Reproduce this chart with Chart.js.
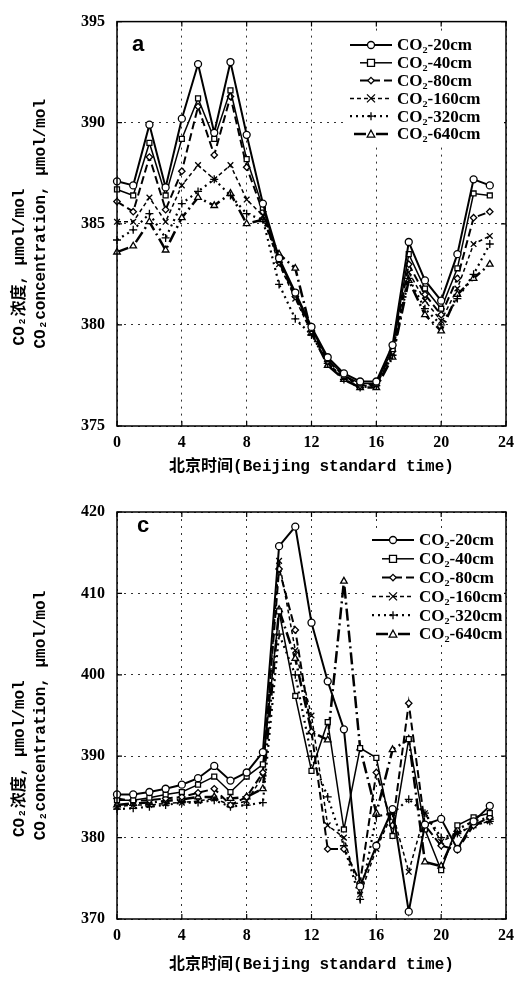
<!DOCTYPE html>
<html><head><meta charset="utf-8">
<script src="https://cdn.jsdelivr.net/npm/chart.js@4"></script>
<style>
html,body{margin:0;padding:0;background:#fff;}
#wrap1{position:absolute;left:0;top:0;width:521px;height:490px;}
#wrap2{position:absolute;left:0;top:490px;width:521px;height:491px;}
</style></head><body>
<div id="wrap1"><canvas id="c1" width="521" height="490"></canvas></div>
<div id="wrap2"><canvas id="c2" width="521" height="491"></canvas></div>
<script>
// ---------- data ----------
const hours = [0,1,2,3,4,5,6,7,8,9,10,11,12,13,14,15,16,17,18,19,20,21,22,23];
const seriesNames = ['CO\u2082-20cm','CO\u2082-40cm','CO\u2082-80cm','CO\u2082-160cm','CO\u2082-320cm','CO\u2082-640cm'];
const xTicks = [0,4,8,12,16,20,24];
const topYTicks = [375,380,385,390,395];
const bottomYTicks = [370,380,390,400,410,420];
const yTitle = ['CO\u2082浓度, μmol/mol         ','CO\u2082concentration, μmol/mol'];
const xTitle = '北京时间(Beijing standard time)';

// panel a
const a_20  = [387.1,386.9,389.9,386.8,390.2,392.9,389.5,393.0,389.4,386.0,383.3,381.6,379.9,378.4,377.6,377.2,377.2,379.0,384.1,382.2,381.2,383.5,387.2,386.9];
const a_40  = [386.7,386.4,389.0,386.4,389.2,391.2,389.2,391.6,388.2,385.8,383.2,381.5,379.8,378.3,377.5,377.1,377.1,378.8,383.5,381.8,380.8,382.8,386.5,386.4];
const a_80  = [386.1,385.6,388.3,385.7,387.6,390.8,388.4,391.3,387.8,385.6,383.1,381.4,379.7,378.2,377.5,377.0,377.1,378.7,383.0,381.5,380.5,382.3,385.3,385.6];
const a_160 = [385.1,385.1,386.3,385.1,386.9,387.9,387.2,387.9,386.2,385.4,383.0,381.3,379.6,378.1,377.4,377.0,377.0,378.6,382.6,381.2,380.2,381.8,384.0,384.4];
const a_320 = [384.2,384.7,385.5,384.3,386.0,386.6,387.2,386.4,385.5,385.2,382.0,380.3,379.5,378.1,377.3,376.9,377.0,378.5,382.3,380.8,380.0,381.3,382.5,384.0];
const a_640 = [383.6,383.9,385.1,383.7,385.3,386.3,385.9,386.5,385.0,385.2,383.5,382.8,379.6,378.0,377.3,376.9,376.9,378.4,382.2,380.5,379.7,381.5,382.3,383.0];

// panel c
const c_20  = [385.3,385.3,385.6,386.0,386.5,387.3,388.8,387.0,388.0,390.5,415.8,418.2,406.4,399.2,393.3,374.0,379.0,383.5,370.9,381.6,382.3,378.6,382.0,383.9];
const c_40  = [384.6,384.6,384.9,385.3,385.6,386.5,387.5,385.6,387.5,389.0,407.8,397.4,388.2,394.2,381.0,391.0,389.8,380.2,392.1,381.0,376.0,381.5,382.5,383.0];
const c_80  = [384.8,384.5,384.6,384.8,385.0,385.5,386.0,384.0,385.0,388.0,413.0,405.5,393.0,378.6,378.6,374.5,388.0,381.5,396.5,381.5,379.0,378.5,381.5,382.5];
const c_160 = [383.8,384.0,384.0,384.2,384.3,384.5,384.8,384.0,384.5,387.5,414.0,403.0,395.0,381.5,380.0,373.0,378.6,383.0,375.8,383.0,379.5,380.5,381.5,382.0];
const c_320 = [383.5,383.6,383.8,384.0,384.3,384.3,384.6,383.8,384.0,384.3,405.0,400.0,390.0,385.0,379.0,372.4,382.6,383.0,384.7,383.0,380.0,380.5,381.5,382.0];
const c_640 = [384.0,384.2,384.3,384.5,384.7,385.0,385.0,384.8,385.0,386.0,408.0,402.0,393.0,392.0,411.5,391.0,383.0,390.8,392.1,377.0,376.5,381.0,382.0,382.5];

// ---------- styles ----------
const styles = [
  {w:2.0, dash:[],          ps:'circle',   r:3.5},
  {w:1.5, dash:[],          ps:'rect',     r:3.5},
  {w:2.0, dash:[8,4],       ps:'rectRot',  r:3.2},
  {w:1.5, dash:[4,3],       ps:'crossRot', r:4},
  {w:2.2, dash:[2,4],       ps:'cross',    r:4},
  {w:2.5, dash:[12,4,2,4],  ps:'triangle', r:3.8}
];

function drawMarker(ctx, ps, r, x, y){
  ctx.save();
  ctx.setLineDash([]);
  ctx.lineWidth = 1.3;
  ctx.strokeStyle = '#000';
  ctx.fillStyle = '#fff';
  ctx.beginPath();
  if (ps === 'circle') { ctx.arc(x,y,r,0,Math.PI*2); ctx.fill(); ctx.stroke(); }
  else if (ps === 'rect') { ctx.rect(x-r,y-r,2*r,2*r); ctx.fill(); ctx.stroke(); }
  else if (ps === 'rectRot') { ctx.moveTo(x,y-r);ctx.lineTo(x+r,y);ctx.lineTo(x,y+r);ctx.lineTo(x-r,y);ctx.closePath(); ctx.fill(); ctx.stroke(); }
  else if (ps === 'crossRot') { ctx.moveTo(x-r,y-r);ctx.lineTo(x+r,y+r);ctx.moveTo(x+r,y-r);ctx.lineTo(x-r,y+r); ctx.stroke(); }
  else if (ps === 'cross') { ctx.moveTo(x-r,y);ctx.lineTo(x+r,y);ctx.moveTo(x,y-r);ctx.lineTo(x,y+r); ctx.stroke(); }
  else if (ps === 'triangle') { ctx.moveTo(x,y-r);ctx.lineTo(x+r,y+r*0.8);ctx.lineTo(x-r,y+r*0.8);ctx.closePath(); ctx.fill(); ctx.stroke(); }
  ctx.restore();
}

const framePlugin = {
  id: 'frame',
  afterDraw(chart, args, opts){
    const ctx = chart.ctx, ca = chart.chartArea;
    const xs = chart.scales.x, ys = chart.scales.y;
    ctx.save();
    ctx.strokeStyle = '#000';
    ctx.lineWidth = 1.5;
    ctx.setLineDash([]);
    ctx.strokeRect(ca.left, ca.top, ca.right-ca.left, ca.bottom-ca.top);
    ctx.lineWidth = 1.2;
    const L = 5;
    ctx.beginPath();
    xs.ticks.forEach(t => {
      const px = xs.getPixelForValue(t.value);
      ctx.moveTo(px, ca.bottom); ctx.lineTo(px, ca.bottom-L);
      ctx.moveTo(px, ca.top); ctx.lineTo(px, ca.top+L);
    });
    ys.ticks.forEach(t => {
      const py = ys.getPixelForValue(t.value);
      ctx.moveTo(ca.left, py); ctx.lineTo(ca.left+L, py);
      ctx.moveTo(ca.right, py); ctx.lineTo(ca.right-L, py);
    });
    ctx.stroke();
    // panel letter
    ctx.fillStyle = '#000';
    ctx.font = 'bold 22px "Liberation Sans", Arial, sans-serif';
    ctx.textBaseline = 'alphabetic';
    ctx.fillText(opts.letter, ca.left + opts.lx, ca.top + opts.ly);
    // legend
    const lg = opts.legend;
    ctx.fillStyle = '#fff';
    ctx.fillRect(lg.x - 4, lg.y - 10, ca.right - 2 - (lg.x - 4), lg.dy * 5 + 20);
    chart.data.datasets.forEach((ds, i) => {
      const st = styles[i];
      const y = lg.y + i * lg.dy;
      ctx.save();
      ctx.strokeStyle = '#000';
      ctx.lineWidth = st.w;
      ctx.setLineDash(st.dash);
      ctx.beginPath();
      ctx.moveTo(lg.x + (lg.starts[i]||0), y);
      ctx.lineTo(lg.x + lg.len, y);
      ctx.stroke();
      ctx.restore();
      drawMarker(ctx, st.ps, st.r, lg.x + lg.len/2, y);
      ctx.fillStyle = '#000';
      ctx.font = 'bold 17px "Liberation Serif", "DejaVu Serif", serif';
      ctx.textBaseline = 'middle';
      ctx.fillText(ds.label, lg.x + lg.len + 5, y + 1);
    });
    ctx.restore();
  }
};

function makeDatasets(arrs){
  return arrs.map((arr, i) => ({
    label: seriesNames[i],
    data: hours.map((h, k) => ({x: h, y: arr[k]})),
    borderColor: '#000',
    backgroundColor: '#fff',
    borderWidth: styles[i].w,
    borderDash: styles[i].dash,
    pointStyle: styles[i].ps,
    pointRadius: styles[i].r,
    pointBorderColor: '#000',
    pointBackgroundColor: '#fff',
    pointBorderWidth: 1.3,
    tension: 0,
    clip: false
  }));
}

const tickFont = {family: '"Liberation Serif", "Times New Roman", serif', size: 16, weight: 'bold'};
const titleFont = {family: '"Liberation Mono", "Noto Sans CJK SC", monospace', size: 16, weight: 'bold', lineHeight: 1.3};

function makeChart(id, arrs, yTicks, xAxisH, padTop, padRight, xTitlePadBottom, letterPos, legend){
  const yMin = yTicks[0], yMax = yTicks[yTicks.length-1];
  return new Chart(document.getElementById(id), {
    type: 'line',
    data: { datasets: makeDatasets(arrs) },
    options: {
      responsive: false,
      animation: false,
      devicePixelRatio: 1,
      layout: { padding: {top: padTop, right: padRight, left: 0, bottom: 0} },
      plugins: {
        legend: {display: false},
        tooltip: {enabled: false},
        frame: {letter: letterPos.t, lx: letterPos.x, ly: letterPos.y, legend: legend}
      },
      scales: {
        x: {
          type: 'linear', min: 0, max: 24,
          afterBuildTicks: s => { s.ticks = xTicks.map(v => ({value: v})); },
          afterFit: s => { s.height = xAxisH; },
          ticks: {font: tickFont, color: '#000', padding: 7, maxRotation: 0},
          grid: {color: '#333', lineWidth: 1, drawTicks: false},
          border: {display: false, dash: [2,5]},
          title: {display: true, text: xTitle, font: titleFont, color: '#000', padding: {top: 2, bottom: xTitlePadBottom}}
        },
        y: {
          type: 'linear', min: yMin, max: yMax,
          afterBuildTicks: s => { s.ticks = yTicks.map(v => ({value: v})); },
          afterFit: s => { s.width = 117; },
          ticks: {font: tickFont, color: '#000', padding: 12},
          grid: {color: '#333', lineWidth: 1, drawTicks: false},
          border: {display: false, dash: [2,5]},
          title: {display: true, text: yTitle, font: titleFont, color: '#000', padding: {top: 10, bottom: 0}}
        }
      }
    },
    plugins: [framePlugin]
  });
}

makeChart('c1', [a_20,a_40,a_80,a_160,a_320,a_640], topYTicks, 64, 18, 10, 13,
  {t:'a', x:15, y:29},
  {x:350, y:45, dy:17.8, len:42, starts:[0,10,10,0,0,4]});
makeChart('c2', [c_20,c_40,c_80,c_160,c_320,c_640], bottomYTicks, 62, 22, 9, 6,
  {t:'c', x:20, y:20},
  {x:372, y:50, dy:18.8, len:42, starts:[0,10,10,0,0,4]});
</script>
</body></html>
